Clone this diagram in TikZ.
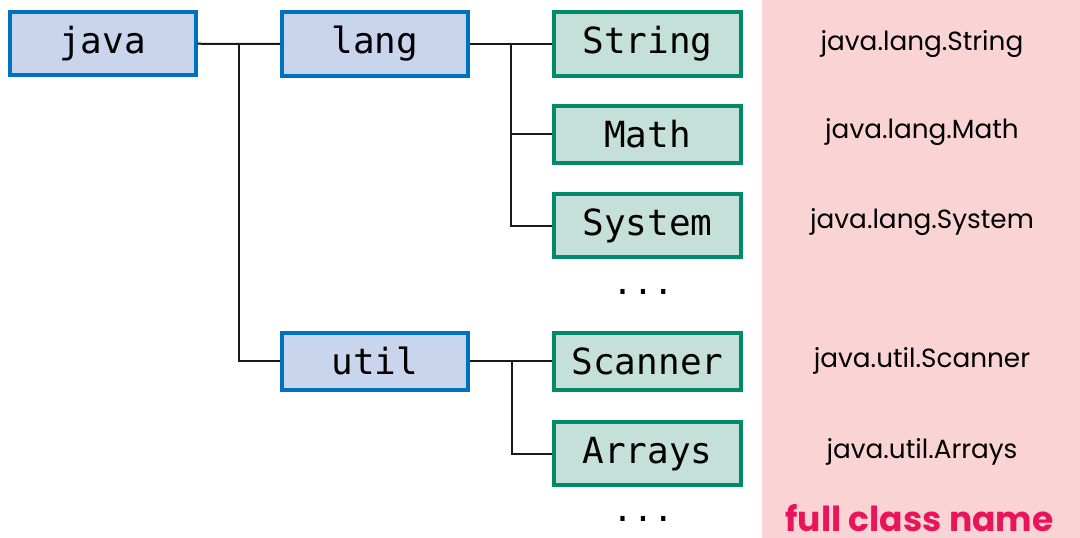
\documentclass[tikz,border=0pt]{standalone}
\usepackage{fontspec}
\setmonofont{DejaVu Sans Mono}
\newfontfamily\labelfont{Poppins}
\definecolor{pkgfill}{RGB}{201,213,236}
\definecolor{pkgline}{RGB}{0,112,192}
\definecolor{clsfill}{RGB}{196,224,216}
\definecolor{clsline}{RGB}{0,137,107}
\definecolor{panel}{RGB}{250,212,212}
\definecolor{titlered}{RGB}{233,20,90}
\begin{document}
\begin{tikzpicture}[x=1pt,y=-1pt,
  box/.style={draw, line width=4pt, anchor=north, font=\ttfamily\fontsize{36}{40}\selectfont,
    text height=27pt, inner xsep=0pt, inner ysep=14.5pt},
  pkg/.style={box, fill=pkgfill, draw=pkgline, minimum width=186pt},
  cls/.style={box, fill=clsfill, draw=clsline, minimum width=187pt},
  fullname/.style={anchor=base, font=\labelfont\fontsize{26.3}{30}\selectfont},
  dots/.style={anchor=base, font=\ttfamily\fontsize{34}{40}\selectfont},
  link/.style={line width=2pt, draw=black!90}]
  \useasboundingbox (0,0) rectangle (1080,538);
  % panel of full class names
  \fill[panel] (762,0) rectangle (1080,538);

  % packages
  \node[pkg] (java) at (102.5,10) {java};
  \node[pkg] (lang) at (375,10) {lang};
  \node[pkg] (util) at (375,331) {util};

  % classes
  \node[cls] (string)  at (647.5,10)  {String};
  \node[cls] (math)    at (647.5,104) {Math};
  \node[cls] (system)  at (647.5,192) {System};
  \node[cls] (scanner) at (647.5,331) {Scanner};
  \node[cls] (arrays)  at (647.5,420) {Arrays};
  \node[dots] (dotsA) at (643,294) {...};
  \node[dots] (dotsB) at (643,521) {...};

  % tree branches
  \coordinate (jb) at (239,0);
  \coordinate (lb) at (511,0);
  \coordinate (ub) at (512,0);
  \draw[link] (java.east) -- (lang.west);
  \draw[link] (jb |- java.east) |- (util.west);
  \draw[link] (lang.east) -- (string.west);
  \draw[link] (lb |- lang.east) |- (math.west);
  \draw[link] (lb |- math.west) |- (system.west);
  \draw[link] (util.east) -- (scanner.west);
  \draw[link] (ub |- util.east) |- (arrays.west);

  % full names
  \node[fullname] (fnString)  at (922,50)  {java.lang.String};
  \node[fullname] (fnMath)    at (922,138) {java.lang.Math};
  \node[fullname] (fnSystem)  at (922,228) {java.lang.System};
  \node[fullname] (fnScanner) at (922,367) {java.util.Scanner};
  \node[fullname] (fnArrays)  at (922,458) {java.util.Arrays};
  \node[anchor=base, inner sep=0pt, font=\labelfont\bfseries\fontsize{34.5}{38}\selectfont, text=titlered]
    (title) at (919.5,531) {full class name};
\end{tikzpicture}
\end{document}
